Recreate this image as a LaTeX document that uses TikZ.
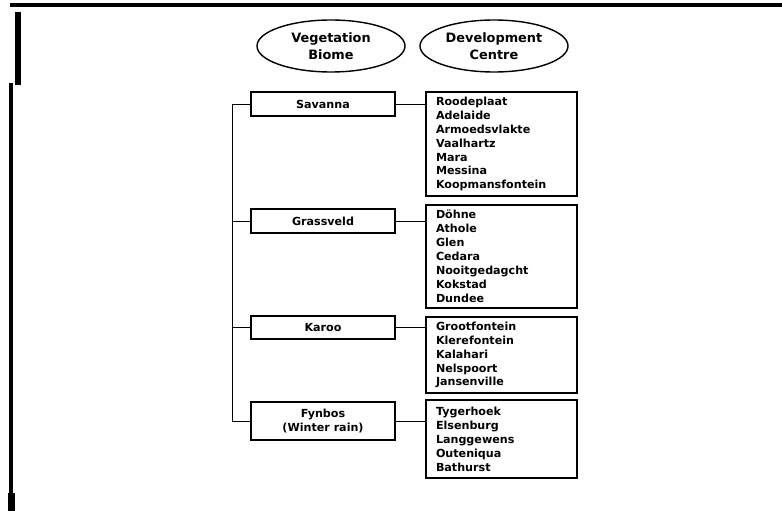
\documentclass[tikz,border=0pt]{standalone}
\usepackage{fontspec}
\setmainfont{DejaVu Sans}
\usetikzlibrary{shapes.geometric}

\begin{document}
\begin{tikzpicture}[x=0.03cm,y=-0.03cm,
  head/.style={draw,ellipse,line width=1.2pt,minimum width=4.44cm,minimum height=1.56cm,inner sep=0pt,align=center,font=\bfseries\fontsize{11}{14.5}\selectfont},
  biome/.style={draw,line width=2pt,minimum width=4.32cm,inner sep=0pt,align=center,font=\bfseries\fontsize{9.5}{12}\selectfont},
  centres/.style={draw,line width=2pt,text width=3.93cm,inner xsep=0.3cm,inner ysep=0pt,align=left,font=\bfseries\fontsize{9.5}{11.9}\selectfont},
  link/.style={line width=0.8pt}]
\useasboundingbox (0,0) rectangle (782,511);

\draw[line width=3.4pt] (10,5) -- (782,5);
\draw[line width=5pt] (18,12) -- (18,85);
\draw[line width=3.4pt] (11,83) -- (11,494);
\draw[line width=5.5pt] (11.5,493) -- (11.5,511);

\node[head] (veg) at (331,46) {Vegetation\\Biome};
\node[head] (dev) at (494,46) {Development\\Centre};

\node[biome,minimum height=0.72cm] (sav) at (323,104) {Savanna};
\node[biome,minimum height=0.72cm] (gra) at (323,221) {Grassveld};
\node[biome,minimum height=0.69cm] (kar) at (323,327.5) {Karoo};
\node[biome,minimum height=1.14cm] (fyn) at (323,421) {Fynbos\\(Winter rain)};

\node[centres,minimum height=3.12cm] (savl) at (501.5,144) {Roodeplaat\\Adelaide\\Armoedsvlakte\\Vaalhartz\\Mara\\Messina\\Koopmansfontein};
\node[centres,minimum height=3.09cm] (gral) at (501.5,256.5) {Döhne\\Athole\\Glen\\Cedara\\Nooitgedagcht\\Kokstad\\Dundee};
\node[centres,minimum height=2.28cm] (karl) at (501.5,355) {Grootfontein\\Klerefontein\\Kalahari\\Nelspoort\\Jansenville};
\node[centres,minimum height=2.34cm] (fynl) at (501.5,439) {Tygerhoek\\Elsenburg\\Langgewens\\Outeniqua\\Bathurst};

\coordinate (trunk) at (232,0);
\draw[link] (sav.west -| trunk) -- (fyn.west -| trunk);
\draw[link] (sav.west) -- (sav.west -| trunk);
\draw[link] (gra.west) -- (gra.west -| trunk);
\draw[link] (kar.west) -- (kar.west -| trunk);
\draw[link] (fyn.west) -- (fyn.west -| trunk);

\draw[link] (sav.east) -- (sav.east -| savl.west);
\draw[link] (gra.east) -- (gra.east -| gral.west);
\draw[link] (kar.east) -- (kar.east -| karl.west);
\draw[link] (fyn.east) -- (fyn.east -| fynl.west);
\end{tikzpicture}
\end{document}
